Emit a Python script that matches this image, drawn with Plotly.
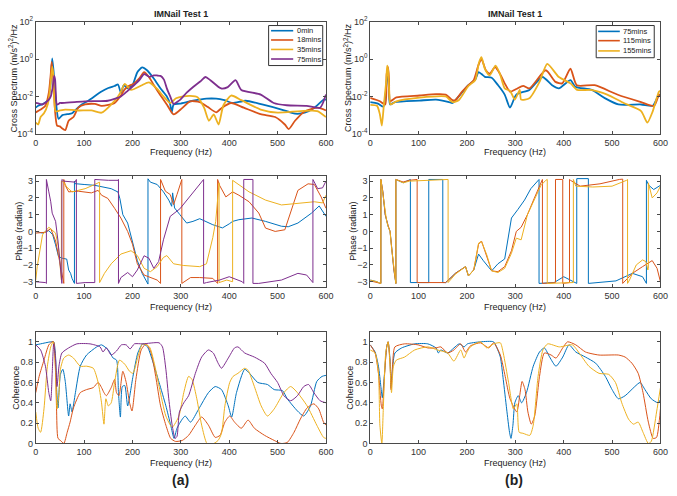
import plotly.graph_objects as go

# ---------------- colours / series names ----------------
COLORS = ['#0072BD', '#D95319', '#EDB120', '#7E2F8E']
names_a = ['0min', '18mins', '35mins', '75mins']
names_b = ['75mins', '115mins', '155mins']

# ---------------- (a) cross spectrum, log10 of (m/s^2)^2/Hz ----------------
csa_f0 = [0, 5, 15, 25, 30, 34, 38, 43, 47, 55, 65, 75, 81, 95, 110, 136, 150, 163, 170, 176, 182, 190, 200, 210, 220, 230, 244, 258, 271, 278, 281, 285, 298, 325, 353, 373, 390, 407, 434, 468, 508, 536, 556, 576, 597, 600]
csa_v0 = [-2.6, -2.5, -2.4, -2.2, -1.5, 0.03, -1.0, -2.6, -3.2, -3.0, -2.95, -2.9, -2.75, -2.43, -2.2, -1.74, -1.55, -1.44, -1.36, -1.8, -1.4, -1.57, -1.4, -0.7, -0.45, -0.6, -1.04, -1.57, -2.0, -2.43, -2.87, -2.43, -2.38, -2.23, -2.12, -2.12, -2.2, -2.35, -2.23, -2.43, -2.7, -2.92, -2.87, -2.6, -2.14, -2.2]
csa_f1 = [0, 10, 20, 27, 31, 33, 36, 40, 44, 50, 54, 61, 68, 78, 88, 102, 122, 136, 150, 163, 176, 183, 190, 203, 215, 224, 234, 244, 258, 271, 285, 302, 319, 339, 355, 373, 385, 404, 430, 465, 495, 515, 523, 536, 556, 583, 600]
csa_v1 = [-2.85, -2.7, -2.5, -1.8, -0.8, -0.15, -1.0, -2.8, -3.56, -3.6, -3.7, -3.8, -3.3, -3.1, -2.6, -2.43, -2.4, -2.5, -2.45, -2.35, -1.95, -1.65, -1.48, -1.3, -1.0, -0.7, -0.96, -1.39, -1.95, -2.43, -2.96, -2.64, -2.26, -2.3, -2.55, -2.85, -2.6, -2.35, -2.6, -2.95, -3.1, -3.5, -3.75, -3.3, -2.8, -2.6, -2.75]
csa_f2 = [0, 5, 10, 17, 25, 30, 34, 37, 41, 50, 61, 75, 88, 115, 136, 156, 170, 176, 184, 197, 217, 234, 251, 264, 278, 290, 305, 319, 335, 348, 358, 368, 378, 388, 404, 425, 465, 500, 548, 582, 600]
csa_v2 = [-3.4, -3.5, -3.1, -2.9, -2.4, -1.5, -0.4, -1.0, -2.8, -2.75, -2.7, -2.72, -2.75, -2.75, -2.87, -2.43, -2.0, -1.74, -1.33, -1.65, -1.43, -1.25, -1.6, -2.0, -2.35, -2.1, -2.0, -1.97, -2.05, -2.6, -3.3, -2.96, -3.5, -2.47, -1.95, -2.2, -2.7, -2.86, -2.78, -2.78, -3.1]
csa_f3 = [0, 8, 14, 22, 27, 31, 35, 38, 40, 44, 50, 54, 80, 102, 130, 149, 176, 190, 203, 215, 224, 235, 244, 251, 258, 265, 271, 278, 285, 292, 299, 312, 326, 340, 351, 361, 383, 397, 413, 425, 465, 492, 519, 560, 588, 600]
csa_v3 = [-2.35, -2.4, -2.43, -2.3, -2.17, -2.0, -1.5, -0.9, -1.1, -2.43, -2.35, -2.35, -2.3, -2.26, -2.25, -2.23, -2.0, -1.7, -1.4, -1.1, -0.8, -0.95, -0.87, -0.88, -0.9, -1.1, -1.57, -2.0, -2.4, -2.3, -2.17, -1.8, -1.48, -1.2, -0.96, -1.13, -1.57, -1.5, -1.13, -1.65, -1.9, -2.35, -2.47, -2.5, -2.6, -1.9]

# ---------------- (b) cross spectrum ----------------
csb_f0 = [0, 10, 17, 27, 32, 35, 37, 39, 41, 51, 102, 136, 163, 170, 183, 203, 217, 224, 230, 237, 251, 264, 278, 289, 302, 329, 356, 376, 390, 414, 424, 458, 485, 513, 560, 584, 597, 600]
csb_v0 = [-2.3, -2.35, -2.4, -2.55, -1.8, -1.0, -0.96, -1.8, -2.43, -2.3, -2.22, -2.17, -2.3, -2.35, -2.0, -1.4, -1.1, -0.7, -0.8, -0.95, -1.0, -1.39, -1.9, -2.6, -1.9, -1.65, -0.96, -1.4, -1.57, -1.13, -1.48, -1.65, -2.09, -2.43, -2.43, -2.5, -1.9, -1.95]
csb_f1 = [0, 20, 31, 34, 37, 39, 41, 54, 102, 136, 156, 170, 176, 190, 203, 214, 224, 230, 239, 247, 258, 268, 278, 289, 302, 316, 329, 363, 383, 397, 414, 427, 464, 512, 560, 587, 597, 600]
csb_v1 = [-2.08, -2.26, -2.43, -0.8, -0.43, -1.2, -2.26, -2.05, -1.95, -1.88, -1.9, -2.2, -2.2, -1.74, -1.39, -1.13, -0.3, 0.0, -0.6, -0.78, -0.43, -0.78, -1.3, -1.74, -1.6, -1.43, -1.57, -0.6, -1.22, -1.3, -0.52, -1.4, -1.4, -1.91, -2.3, -2.5, -1.91, -1.9]
csb_f2 = [0, 14, 20, 24, 28, 33, 35, 37, 39, 42, 54, 102, 156, 170, 183, 203, 217, 225, 230, 237, 247, 259, 268, 278, 289, 299, 309, 312, 329, 350, 366, 390, 414, 428, 456, 490, 524, 560, 573, 584, 597, 600]
csb_v2 = [-2.45, -2.5, -2.96, -3.56, -2.5, -1.2, -0.35, -0.6, -1.6, -2.43, -2.26, -2.06, -2.0, -2.3, -2.2, -1.44, -1.13, -0.17, 0.1, -0.52, -0.87, -0.35, -0.78, -1.57, -1.7, -2.17, -1.65, -2.17, -2.1, -1.22, -0.26, -0.96, -1.3, -1.65, -1.65, -1.9, -2.35, -2.78, -3.4, -2.8, -1.74, -1.7]

# ---------------- (a) phase (radian) ----------------
pha_f0 = [0, 14, 27, 35, 41, 47, 55, 64, 68, 72, 75, 78, 80, 80, 81, 100, 122, 156, 170, 174, 180, 190, 200, 210, 220, 230, 232, 232, 237, 251, 264, 275, 281, 283, 285, 287, 298, 312, 325, 339, 366, 386, 400, 407, 420, 447, 475, 508, 522, 542, 570, 586, 600]
pha_v0 = [0.0, -0.1, 0.05, -0.2, -0.8, -1.5, -1.6, -1.65, -2.3, -2.5, -2.8, -3.05, -3.1, 3.0, 2.85, 2.8, 2.75, 2.55, 2.35, 1.95, 1.0, 0.5, -0.57, -1.74, -2.5, -3.0, -3.14, 3.14, 2.94, 2.8, 2.36, 1.87, 1.5, 2.3, 1.6, 1.4, 1.0, 0.5, 0.6, 0.76, 0.4, 0.21, 0.45, 0.6, 0.7, 0.8, 0.6, 0.31, 0.28, 0.5, 1.09, 1.52, 0.9]
pha_f1 = [0, 20, 31, 41, 47, 54, 58, 58, 61, 68, 88, 115, 129, 136, 149, 163, 176, 190, 200, 210, 224, 251, 258, 258, 268, 278, 285, 292, 298, 302, 302, 320, 339, 366, 376, 376, 380, 393, 407, 420, 441, 461, 475, 495, 515, 529, 542, 563, 576, 590, 600]
pha_v1 = [-0.1, -0.05, 0.17, -0.57, -1.44, -2.5, -3.1, 3.1, 2.75, 2.36, 2.4, 2.3, 2.45, 2.16, 1.97, 1.38, 0.8, 0.0, -0.76, -1.93, -2.6, -2.9, -3.1, 3.1, 2.4, 2.2, 1.6, 2.2, 2.8, 3.1, -3.1, -2.75, -2.75, -2.8, -3.1, 3.1, 2.75, 2.06, 2.36, 2.16, 1.77, 1.1, 0.2, 0.0, 0.1, 1.38, 2.45, 2.84, 2.8, 2.06, 1.38]
pha_f2 = [0, 3, 14, 27, 41, 47, 53, 53, 58, 64, 75, 102, 122, 132, 132, 142, 156, 176, 197, 210, 224, 237, 251, 264, 271, 285, 305, 339, 353, 366, 372, 376, 379, 379, 395, 407, 407, 441, 475, 508, 542, 576, 593, 600]
pha_v2 = [-2.9, -2.1, -0.2, 0.25, -0.1, -0.95, -2.9, 3.0, 2.94, 2.65, 2.36, 2.55, 2.8, 2.94, -3.05, -2.5, -1.93, -1.35, -1.15, -1.44, -2.2, -2.4, -2.1, -1.55, -1.44, -1.93, -2.03, -2.1, -1.93, -0.37, 0.6, 1.8, 2.9, -3.05, -2.9, -3.0, 3.05, 2.36, 1.87, 1.58, 1.67, 1.77, 1.7, 2.16]
pha_f3 = [0, 20, 22, 22, 27, 31, 34, 41, 46, 51, 54, 54, 58, 81, 84, 84, 102, 122, 122, 150, 170, 171, 171, 176, 190, 200, 210, 224, 234, 244, 254, 264, 278, 298, 319, 339, 347, 347, 353, 380, 400, 427, 430, 430, 449, 449, 461, 508, 542, 560, 573, 573, 583, 593, 600]
pha_v3 = [-3.0, -3.05, -3.1, 3.1, 2.36, 1.77, 1.09, 0.6, -0.57, -1.93, -3.1, 3.1, 3.0, 2.94, 3.1, -3.1, -3.05, -3.05, 3.1, 3.05, 3.05, 3.1, -3.1, -2.75, -2.45, -2.7, -2.3, -1.45, -1.6, -2.2, -1.8, -0.5, 0.9, 1.35, 2.1, 2.85, 3.1, -3.1, -3.05, -2.9, -2.7, -3.0, -3.1, 3.1, 3.1, -3.1, -3.1, -2.9, -2.5, -2.6, -3.05, 3.1, 2.55, 2.6, 3.0]

# ---------------- (b) phase (radian) ----------------
phb_f0 = [0, 14, 20, 22, 22, 26, 31, 34, 37, 41, 44, 49, 53, 53, 68, 81, 83, 83, 121, 121, 150, 150, 156, 176, 197, 203, 214, 224, 234, 251, 264, 278, 292, 305, 319, 332, 346, 349, 349, 380, 400, 420, 427, 427, 447, 451, 451, 508, 542, 563, 571, 571, 576, 586, 600]
phb_v0 = [-2.9, -3.0, -3.1, -3.1, 3.1, 2.36, 1.0, 0.6, 0.3, 0.0, -0.95, -2.3, -3.1, 3.1, 2.9, 3.05, 3.1, -3.05, -3.05, 3.1, 3.1, -3.05, -3.05, -2.5, -2.1, -2.65, -2.3, -1.35, -1.75, -2.35, -1.93, -1.64, 0.8, 1.3, 1.87, 2.55, 3.05, 3.1, -3.1, -3.05, -2.7, -3.0, -3.1, 3.15, 3.15, 3.15, -3.1, -2.95, -2.5, -2.7, -3.1, 3.05, 2.75, 2.5, 2.75]
phb_f1 = [0, 14, 20, 22, 22, 26, 31, 34, 37, 41, 44, 49, 53, 53, 68, 81, 97, 97, 156, 176, 197, 203, 214, 224, 230, 241, 251, 264, 278, 292, 302, 312, 325, 339, 353, 356, 356, 383, 383, 398, 398, 412, 412, 414, 434, 475, 515, 522, 522, 528, 542, 563, 583, 593, 600]
phb_v1 = [-2.95, -3.05, -3.1, -3.1, 3.1, 2.4, 1.0, 0.6, 0.35, 0.0, -0.95, -2.3, -3.1, 3.1, 2.95, 3.05, 3.1, -3.05, -3.05, -2.5, -2.1, -2.65, -2.3, -0.76, -0.57, -1.5, -2.35, -2.4, -2.1, -1.15, 0.0, 0.25, 1.0, 1.97, 2.84, 3.1, -3.1, -3.05, 3.1, 3.1, -3.1, -3.05, 3.1, 3.05, 2.7, 2.84, 3.1, 3.12, -3.1, -2.9, -2.5, -2.1, -1.74, -2.2, -3.0]
phb_f2 = [0, 14, 20, 22, 22, 26, 31, 34, 37, 41, 44, 49, 53, 53, 68, 81, 120, 161, 161, 176, 197, 203, 214, 224, 230, 241, 251, 264, 278, 292, 302, 312, 325, 339, 353, 363, 366, 366, 420, 420, 425, 460, 500, 530, 532, 532, 536, 550, 563, 570, 574, 575, 575, 583, 593, 600]
phb_v2 = [-2.9, -3.0, -3.1, -3.1, 3.1, 2.3, 1.0, 0.6, 0.3, 0.0, -0.95, -2.3, -3.1, 3.1, 2.9, 3.0, 3.05, 3.1, -3.05, -2.55, -2.1, -2.65, -2.3, -0.7, -0.6, -1.4, -2.35, -2.45, -2.2, -1.3, -0.4, -0.5, 1.0, 1.9, 2.75, 3.05, 3.1, -3.1, -3.05, 3.1, 2.7, 2.65, 2.7, 3.05, 3.1, -3.1, -2.9, -2.0, -1.7, -1.8, -2.3, -2.2, 2.9, 2.0, 2.3, 2.7]

# ---------------- (a) coherence ----------------
coa_f0 = [0, 10, 31, 37, 41, 43, 46, 51, 56, 61, 68, 71, 75, 82, 92, 105, 126, 136, 150, 160, 167, 171, 175, 179, 184, 190, 201, 211, 221, 231, 241, 255, 269, 279, 286, 292, 303, 309, 320, 337, 357, 371, 384, 398, 405, 415, 432, 442, 459, 479, 493, 510, 520, 541, 554, 568, 581, 592, 600]
coa_v0 = [0.97, 0.98, 1.0, 1.0, 0.85, 0.55, 0.35, 0.68, 0.73, 0.61, 0.27, 0.39, 0.31, 0.5, 0.76, 0.87, 0.95, 0.97, 0.92, 0.84, 0.82, 0.5, 0.26, 0.56, 0.57, 0.37, 0.66, 0.89, 0.98, 0.95, 0.82, 0.6, 0.37, 0.18, 0.05, 0.15, 0.24, 0.27, 0.21, 0.34, 0.5, 0.56, 0.53, 0.37, 0.26, 0.5, 0.73, 0.69, 0.6, 0.58, 0.53, 0.52, 0.44, 0.32, 0.27, 0.37, 0.61, 0.66, 0.67]
coa_f1 = [0, 7, 17, 27, 34, 37, 41, 43, 46, 51, 58, 65, 71, 78, 92, 105, 119, 129, 136, 141, 146, 156, 163, 167, 172, 180, 187, 194, 199, 207, 218, 228, 238, 248, 258, 269, 279, 289, 303, 316, 330, 343, 357, 371, 381, 391, 401, 411, 425, 439, 452, 473, 493, 507, 520, 534, 547, 561, 575, 585, 595, 600]
coa_v1 = [0.5, 0.66, 0.82, 0.97, 1.0, 1.0, 0.73, 0.34, 0.05, 0.03, 0.0, 0.11, 0.21, 0.35, 0.5, 0.53, 0.55, 0.6, 0.55, 0.5, 0.47, 0.55, 0.63, 0.5, 0.47, 0.71, 0.6, 0.4, 0.32, 0.63, 0.92, 0.98, 0.9, 0.66, 0.37, 0.18, 0.05, 0.02, 0.03, 0.08, 0.18, 0.26, 0.18, 0.06, 0.08, 0.21, 0.27, 0.21, 0.15, 0.23, 0.15, 0.08, 0.03, 0.0, 0.01, 0.11, 0.24, 0.35, 0.39, 0.34, 0.21, 0.18]
coa_f2 = [0, 5, 10, 17, 24, 31, 36, 41, 44, 48, 51, 58, 68, 78, 92, 105, 119, 129, 136, 141, 145, 150, 156, 163, 173, 184, 194, 201, 211, 221, 235, 245, 255, 269, 282, 296, 306, 316, 323, 333, 343, 354, 364, 377, 384, 391, 401, 408, 418, 432, 439, 452, 466, 479, 493, 513, 527, 541, 561, 581, 595, 600]
coa_v2 = [0.31, 0.15, 0.11, 0.34, 0.76, 0.95, 1.0, 0.69, 0.34, 0.5, 0.73, 0.84, 0.87, 0.84, 0.76, 0.76, 0.74, 0.6, 0.4, 0.19, 0.44, 0.37, 0.4, 0.6, 0.82, 0.78, 0.71, 0.69, 0.85, 0.98, 0.95, 0.79, 0.56, 0.27, 0.16, 0.27, 0.5, 0.66, 0.63, 0.44, 0.18, 0.0, -0.01, 0.03, 0.1, 0.37, 0.6, 0.66, 0.69, 0.74, 0.72, 0.56, 0.37, 0.27, 0.34, 0.5, 0.56, 0.5, 0.37, 0.18, 0.06, 0.05]
coa_f3 = [0, 10, 20, 27, 31, 34, 37, 41, 44, 48, 54, 68, 85, 112, 133, 139, 146, 156, 167, 177, 187, 195, 204, 221, 255, 262, 269, 275, 282, 288, 292, 297, 306, 316, 330, 343, 357, 367, 377, 384, 398, 411, 418, 432, 452, 473, 486, 500, 513, 527, 541, 554, 564, 575, 588, 600]
coa_v3 = [0.97, 0.92, 0.76, 0.5, 0.42, 0.69, 0.98, 0.82, 0.56, 0.76, 0.89, 0.94, 0.98, 0.98, 0.95, 0.9, 0.94, 0.87, 0.91, 0.97, 0.97, 0.93, 0.98, 0.98, 0.99, 0.95, 0.73, 0.44, 0.18, 0.05, 0.07, 0.31, 0.4, 0.47, 0.69, 0.85, 0.92, 0.89, 0.79, 0.74, 0.84, 0.94, 0.95, 0.89, 0.85, 0.79, 0.69, 0.6, 0.47, 0.42, 0.47, 0.56, 0.58, 0.5, 0.42, 0.4]

# ---------------- (b) coherence ----------------
cob_f0 = [0, 10, 17, 22, 25, 29, 34, 37, 41, 43, 46, 51, 65, 92, 119, 136, 141, 146, 160, 173, 184, 194, 201, 228, 255, 262, 269, 275, 282, 288, 291, 295, 299, 306, 313, 323, 337, 350, 360, 371, 384, 398, 411, 425, 445, 466, 486, 500, 513, 527, 547, 558, 568, 581, 595, 600]
cob_v0 = [0.97, 0.9, 0.76, 0.56, 0.45, 0.66, 0.95, 1.0, 0.82, 0.55, 0.73, 0.89, 0.94, 0.98, 0.98, 0.94, 0.89, 0.92, 0.89, 0.94, 0.98, 0.95, 0.98, 1.0, 1.0, 0.94, 0.85, 0.63, 0.34, 0.11, 0.05, 0.18, 0.4, 0.47, 0.4, 0.5, 0.76, 0.9, 0.94, 0.85, 0.76, 0.85, 0.97, 0.9, 0.85, 0.79, 0.66, 0.53, 0.44, 0.47, 0.56, 0.6, 0.53, 0.44, 0.4, 0.43]
cob_f1 = [0, 10, 17, 23, 25, 29, 34, 37, 41, 43, 46, 51, 71, 99, 119, 136, 146, 160, 173, 187, 197, 207, 228, 245, 255, 269, 279, 289, 303, 309, 314, 320, 326, 333, 340, 350, 360, 374, 384, 398, 408, 425, 445, 473, 513, 527, 541, 554, 564, 575, 585, 592, 598, 600]
cob_v1 = [0.97, 0.89, 0.69, 0.37, 0.34, 0.63, 0.95, 1.0, 0.79, 0.53, 0.76, 0.95, 0.98, 0.97, 0.94, 0.94, 0.95, 0.89, 0.92, 0.98, 0.9, 0.96, 0.99, 0.94, 0.99, 0.87, 0.66, 0.44, 0.31, 0.47, 0.61, 0.53, 0.31, 0.19, 0.27, 0.66, 0.89, 0.87, 0.84, 0.94, 1.0, 0.97, 0.9, 0.87, 0.87, 0.85, 0.79, 0.69, 0.5, 0.21, 0.05, 0.06, 0.24, 0.34]
cob_f2 = [0, 10, 17, 20, 24, 27, 32, 37, 41, 44, 48, 54, 71, 92, 119, 139, 160, 173, 187, 194, 199, 207, 228, 241, 255, 269, 275, 286, 296, 303, 308, 316, 330, 337, 347, 357, 367, 391, 418, 432, 452, 473, 493, 507, 520, 534, 544, 554, 564, 575, 581, 592, 600]
cob_v2 = [0.92, 0.89, 0.69, 0.18, 0.0, 0.34, 0.89, 1.0, 0.76, 0.5, 0.76, 0.82, 0.85, 0.92, 0.95, 0.92, 0.89, 0.81, 0.92, 0.84, 0.89, 0.95, 1.0, 0.94, 0.98, 0.99, 0.89, 0.6, 0.34, 0.39, 0.11, 0.1, 0.08, 0.18, 0.66, 0.92, 0.98, 0.95, 0.97, 0.89, 0.76, 0.69, 0.68, 0.6, 0.4, 0.24, 0.19, 0.21, 0.11, 0.0, 0.02, 0.31, 0.55]

# ---------------- figure ----------------
W, H = 677, 496
FONT = 'Liberation Sans, Arial, Helvetica, sans-serif'
AXC = '#4a4a4a'

def px_x(p):
    return p / W

def px_y(p):
    return 1 - p / H

col_dom = [[px_x(33.3), px_x(328.3)], [px_x(373.3), px_x(668.3)]]
row_dom = [[px_y(130), px_y(15)], [px_y(286.7), px_y(173.3)], [px_y(447.3), px_y(332.7)]]

fig = go.Figure()

def add(axn, f, v, color, name, width, shape, logv=False):
    y = [10 ** e for e in v] if logv else v
    fig.add_trace(go.Scatter(
        x=f, y=y, mode='lines', name=name,
        line=dict(color=color, width=width, shape=shape, smoothing=0.6 if shape == 'spline' else None),
        xaxis='x' + ('' if axn == 1 else str(axn)), yaxis='y' + ('' if axn == 1 else str(axn)),
        showlegend=False, hoverinfo='skip'))

# cross spectra
for f, v, c, n in zip([csa_f0, csa_f1, csa_f2, csa_f3], [csa_v0, csa_v1, csa_v2, csa_v3], COLORS, names_a):
    add(1, f, v, c, n, 1.8, 'spline', logv=True)
for f, v, c, n in zip([csb_f0, csb_f1, csb_f2], [csb_v0, csb_v1, csb_v2], COLORS, names_b):
    add(2, f, v, c, n, 1.8, 'spline', logv=True)
# phase
for f, v, c, n in zip([pha_f0, pha_f1, pha_f2, pha_f3], [pha_v0, pha_v1, pha_v2, pha_v3], COLORS, names_a):
    add(3, f, v, c, n, 1.0, 'linear')
for f, v, c, n in zip([phb_f0, phb_f1, phb_f2], [phb_v0, phb_v1, phb_v2], COLORS, names_b):
    add(4, f, v, c, n, 1.0, 'linear')
# coherence
for f, v, c, n in zip([coa_f0, coa_f1, coa_f2, coa_f3], [coa_v0, coa_v1, coa_v2, coa_v3], COLORS, names_a):
    add(5, f, v, c, n, 1.0, 'spline')
for f, v, c, n in zip([cob_f0, cob_f1, cob_f2], [cob_v0, cob_v1, cob_v2], COLORS, names_b):
    add(6, f, v, c, n, 1.0, 'spline')

common = dict(showline=True, linecolor=AXC, linewidth=1, mirror='ticks', ticks='inside',
              ticklen=3, tickcolor=AXC, showgrid=False, zeroline=False,
              tickfont=dict(family=FONT, size=9, color='#333'))

layout = dict(width=W, height=H, margin=dict(l=0, r=0, t=0, b=0),
              paper_bgcolor='white', plot_bgcolor='white', showlegend=False)

for i in range(6):
    r, c = i // 2, i % 2
    xn = 'xaxis' + ('' if i == 0 else str(i + 1))
    yn = 'yaxis' + ('' if i == 0 else str(i + 1))
    anchor_x = 'x' + ('' if i == 0 else str(i + 1))
    anchor_y = 'y' + ('' if i == 0 else str(i + 1))
    layout[xn] = dict(common, domain=col_dom[c], anchor=anchor_y, range=[0, 600],
                      tickvals=[0, 100, 200, 300, 400, 500, 600])
    if r == 0:
        layout[yn] = dict(common, domain=row_dom[r], anchor=anchor_x, type='log', range=[-4, 2],
                          tickvals=[1e-4, 1e-2, 1, 1e2],
                          ticktext=['10<sup>-4</sup>', '10<sup>-2</sup>', '10<sup>0</sup>', '10<sup>2</sup>'])
    elif r == 1:
        layout[yn] = dict(common, domain=row_dom[r], anchor=anchor_x, range=[-3.3, 3.3],
                          tickvals=[-3, -2, -1, 0, 1, 2, 3])
    else:
        layout[yn] = dict(common, domain=row_dom[r], anchor=anchor_x, range=[0, 1.1],
                          tickvals=[0, 0.2, 0.4, 0.6, 0.8, 1], ticktext=['0', '0.2', '0.4', '0.6', '0.8', '1'])

ann = []
shapes = []

def text(x, y, s, size=9, bold=False, angle=0, xanchor='center'):
    ann.append(dict(x=px_x(x), y=px_y(y), xref='paper', yref='paper', text=('<b>%s</b>' % s) if bold else s,
                    showarrow=False, textangle=angle, xanchor=xanchor, yanchor='middle',
                    font=dict(family=FONT, size=size, color='#222')))

for cx in (180.8, 520.8):
    text(cx, 7, 'IMNail Test 1', size=9, bold=True)
    for yy in (149, 307, 467):
        text(cx, yy, 'Frequency (Hz)', size=9)
for x0 in (10, 350):
    text(x0, 72.5, 'Cross Spectrum (m/s<sup>2</sup>)<sup>2</sup>/Hz', size=9, angle=-90)
for x0 in (16.5, 356):
    text(x0, 230, 'Phase (radian)', size=9, angle=-90)
for x0 in (12.5, 352):
    text(x0, 390, 'Coherence', size=9, angle=-90)
text(180, 485, '(a)', size=14, bold=True)
text(519, 485, '(b)', size=14, bold=True)

# compact MATLAB-style legends (box, line samples, labels)
def legend_box(x0, x1, y0, y1, names, ys, lx0, lx1, tx):
    shapes.append(dict(type='rect', xref='paper', yref='paper', x0=px_x(x0), x1=px_x(x1),
                       y0=px_y(y1), y1=px_y(y0), line=dict(color='#333', width=1), fillcolor='white', layer='above'))
    for n, c, yy in zip(names, COLORS, ys):
        shapes.append(dict(type='line', xref='paper', yref='paper', x0=px_x(lx0), x1=px_x(lx1),
                           y0=px_y(yy), y1=px_y(yy), line=dict(color=c, width=1.6), layer='above'))
        text(tx, yy, n, size=7.5, xanchor='left')

legend_box(270, 325, 19, 60, names_a, [24.3, 33.8, 43.5, 53.3], 272.5, 295, 296.5)
legend_box(603, 662, 19, 52, names_b, [25, 34.5, 45], 605, 627, 628.5)

layout['annotations'] = ann
layout['shapes'] = shapes
fig.update_layout(**layout)
fig.write_html('out.html', config={'displayModeBar': False, 'staticPlot': True},
               post_script="document.body.style.margin='0';document.body.style.overflow='hidden';")
